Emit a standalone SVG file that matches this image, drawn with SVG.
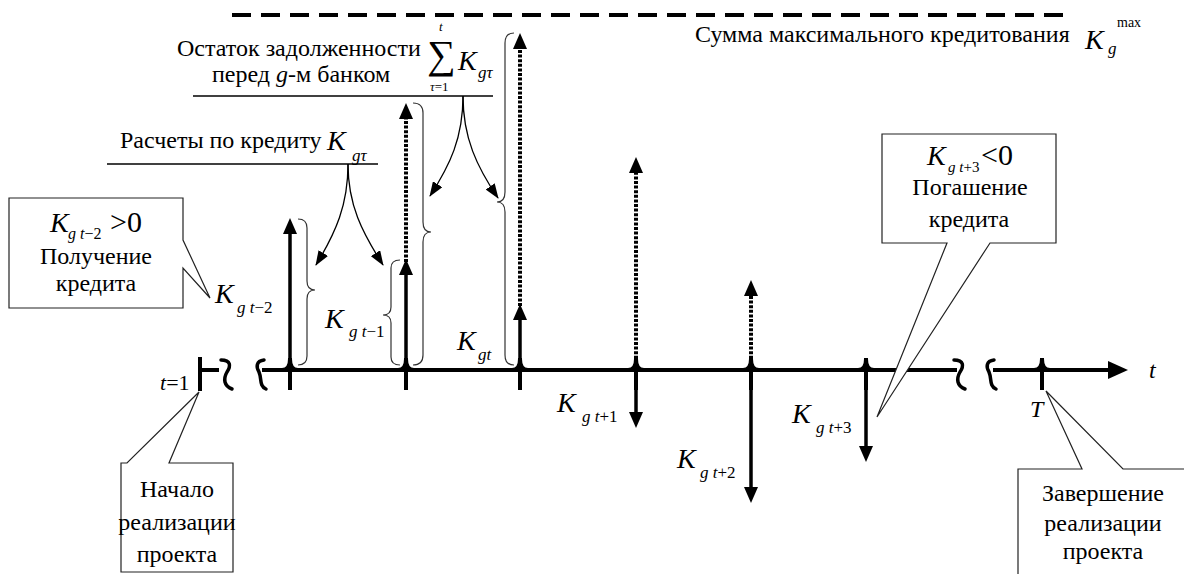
<svg xmlns="http://www.w3.org/2000/svg" width="1184" height="574" viewBox="0 0 1184 574">
<style>
text{font-family:"Liberation Serif","Liberation Sans",serif;fill:#000}
.t{font-size:24px}
.c{text-anchor:middle}
.i{font-style:italic}
.K{font-style:italic;font-size:28px}
.s{font-size:17px}
.ax{stroke:#000;stroke-width:4;fill:none}
.v{stroke:#000;stroke-width:3.5;fill:none}
.d{stroke:#000;stroke-width:4;fill:none;stroke-dasharray:3 1.6}
.cv{stroke:#000;stroke-width:1.3;fill:none}
.br{stroke:#333;stroke-width:1.2;fill:none}
.box{fill:#fff;stroke:#222;stroke-width:1.2}
.sq{stroke:#000;stroke-width:3.5;fill:none;stroke-linecap:round}
</style>
<defs>
<marker id="ah" viewBox="0 0 16 14" refX="2" refY="7" markerWidth="16" markerHeight="14" markerUnits="userSpaceOnUse" orient="auto"><path d="M0,0 L16,7 L0,14 Z" fill="#000"/></marker>
<marker id="ahs" viewBox="0 0 15 11" refX="14" refY="5.5" markerWidth="15" markerHeight="11" markerUnits="userSpaceOnUse" orient="auto"><path d="M0,0 L15,5.5 L0,11 Z" fill="#000"/></marker>
</defs>

<g id="max-line">
<line x1="232" y1="15" x2="1068" y2="15" stroke="#000" stroke-width="4" stroke-dasharray="19 10"/>
<text class="t" x="695" y="42">Сумма максимального кредитования</text>
<text x="1085" y="49" class="K">K</text>
<text x="1108" y="54" class="s i">g</text>
<text x="1117" y="27" font-size="14">max</text>
</g>

<g id="axis">
<line class="ax" x1="200" y1="370" x2="219" y2="370"/>
<line class="ax" x1="200" y1="357" x2="200" y2="391"/>
<path class="sq" d="M221 360 C231 360 231 366 227 372 C223 379 224 386 232 389"/>
<path class="sq" d="M264 360 C256 361 256 367 259 372 C262 379 259 386 266 389"/>
<line class="ax" x1="262" y1="370" x2="957" y2="370"/>
<path class="sq" d="M954 360 C964 360 964 366 960 372 C956 379 957 386 965 389"/>
<path class="sq" d="M994 360 C986 361 986 367 989 372 C992 379 989 386 996 389"/>
<line class="ax" x1="993" y1="370" x2="1110" y2="370"/>
<path d="M1108 361 L1128 370 L1108 379 Z" fill="#000"/>
<text class="t i" x="1149" y="378">t</text>
<text x="160" y="390" font-size="22"><tspan class="i">t</tspan>=1</text>
<text class="t i" x="1030" y="417">T</text>
</g>

<g id="ticks" fill="#000">
<line class="ax" x1="290" y1="358" x2="290" y2="390"/>
<path d="M282 368 Q288 368 288 359 L292 359 Q292 368 298 368 Z"/>
<line class="ax" x1="406" y1="358" x2="406" y2="390"/>
<path d="M398 368 Q404 368 404 359 L408 359 Q408 368 414 368 Z"/>
<line class="ax" x1="520" y1="358" x2="520" y2="390"/>
<path d="M512 368 Q518 368 518 359 L522 359 Q522 368 528 368 Z"/>
<line class="ax" x1="636" y1="358" x2="636" y2="390"/>
<path d="M628 368 Q634 368 634 359 L638 359 Q638 368 644 368 Z"/>
<line class="ax" x1="751" y1="358" x2="751" y2="390"/>
<path d="M743 368 Q749 368 749 359 L753 359 Q753 368 759 368 Z"/>
<line class="ax" x1="866" y1="358" x2="866" y2="390"/>
<path d="M858 368 Q864 368 864 359 L868 359 Q868 368 874 368 Z"/>
<line class="ax" x1="1042" y1="358" x2="1042" y2="390"/>
<path d="M1034 368 Q1040 368 1040 359 L1044 359 Q1044 368 1050 368 Z"/>
</g>

<g id="connectors">
<line class="v" x1="290" y1="370" x2="290" y2="232" marker-end="url(#ah)"/>
<line class="v" x1="406" y1="370" x2="406" y2="273" marker-end="url(#ah)"/>
<line class="v" x1="520" y1="370" x2="520" y2="318" marker-end="url(#ah)"/>
<line class="d" x1="406" y1="262" x2="406" y2="117" marker-end="url(#ah)"/>
<line class="d" x1="520" y1="306" x2="520" y2="47" marker-end="url(#ah)"/>
<line class="d" x1="636" y1="368" x2="636" y2="171" marker-end="url(#ah)"/>
<line class="d" x1="751" y1="368" x2="751" y2="294" marker-end="url(#ah)"/>
<line class="v" x1="636" y1="372" x2="636" y2="414" marker-end="url(#ah)"/>
<line class="v" x1="751" y1="372" x2="751" y2="489" marker-end="url(#ah)"/>
<line class="v" x1="866" y1="372" x2="866" y2="448" marker-end="url(#ah)"/>
<path class="cv" d="M348 164 C348 205 336 232 316 265" marker-end="url(#ahs)"/>
<path class="cv" d="M348 164 C348 205 362 232 383 265" marker-end="url(#ahs)"/>
<path class="cv" d="M463 96 C463 138 450 165 430 196" marker-end="url(#ahs)"/>
<path class="cv" d="M463 96 C463 138 477 167 498 198" marker-end="url(#ahs)"/>
<path class="br" d="M298 219 Q307 219 307 228 L307 281 Q307 290 315 290 Q307 290 307 299 L307 356 Q307 365 298 365"/>
<path class="br" d="M400 260 Q391 260 391 268 L391 307 Q391 315 383 315 Q391 315 391 323 L391 357 Q391 365 400 365"/>
<path class="br" d="M413 103 Q423 103 423 113 L423 222 Q423 232 431 232 Q423 232 423 242 L423 355 Q423 365 413 365"/>
<path class="br" d="M514 33 Q505 33 505 43 L505 192 Q505 202 497 202 Q505 202 505 212 L505 355 Q505 365 514 365"/>
</g>

<g id="labels">
<text x="215" y="303" class="K">K</text><text x="237" y="313" class="s"><tspan class="i">g t</tspan>−2</text>
<text x="325" y="328" class="K">K</text><text x="349" y="337" class="s"><tspan class="i">g t</tspan>−1</text>
<text x="457" y="350" class="K">K</text><text x="478" y="360" class="s i">gt</text>
<text x="557" y="412" class="K">K</text><text x="582" y="422" class="s"><tspan class="i">g t</tspan>+1</text>
<text x="677" y="468" class="K">K</text><text x="700" y="478" class="s"><tspan class="i">g t</tspan>+2</text>
<text x="792" y="423" class="K">K</text><text x="816" y="433" class="s"><tspan class="i">g t</tspan>+3</text>
</g>

<g id="note-payments">
<text class="t" x="120" y="148">Расчеты по кредиту</text>
<text x="327" y="150" class="K">K</text><text x="352" y="161" class="s i">gτ</text>
<line x1="107" y1="164" x2="378" y2="164" stroke="#000" stroke-width="1.3"/>
</g>

<g id="note-debt">
<text class="t" x="177" y="56">Остаток задолженности</text>
<text class="t" x="212" y="82">перед <tspan class="i">g</tspan>-м банком</text>
<text x="427" y="68" font-size="40">∑</text>
<text x="439" y="31" font-size="13" class="i">t</text>
<text x="430" y="91" font-size="13"><tspan class="i">τ</tspan>=1</text>
<text x="458" y="70" class="K">K</text><text x="478" y="78" class="s i">gτ</text>
<line x1="193" y1="96" x2="493" y2="96" stroke="#000" stroke-width="1.3"/>
</g>

<g id="box-receive">
<path class="box" d="M9 198 H183 V240 L210 298 L183 268 V308 H9 Z"/>
<text x="50" y="232" class="K">K</text><text x="68" y="239" font-size="16"><tspan class="i">g t</tspan>−2</text><text x="110" y="232" font-size="30">&gt;0</text>
<text class="t c" x="96" y="264">Получение</text>
<text class="t c" x="96" y="291">кредита</text>
</g>

<g id="box-repay">
<path class="box" d="M882 134 H1056 V243 H990 L877 417 L947 243 H882 Z"/>
<text x="927" y="165" class="K">K</text><text x="948" y="172" font-size="15"><tspan class="i">g t</tspan>+3</text><text x="981" y="165" font-size="30">&lt;0</text>
<text class="t c" x="970" y="195">Погашение</text>
<text class="t c" x="969" y="227">кредита</text>
</g>

<g id="box-start">
<path class="box" d="M121 463 H127 L199 392 L169 463 H233 V572 H121 Z"/>
<text class="t c" x="177" y="497">Начало</text>
<text class="t c" x="177" y="530">реализации</text>
<text class="t c" x="177" y="562">проекта</text>
</g>

<g id="box-end">
<path class="box" d="M1018 469 H1082 L1046 391 L1123 469 H1190 V580 H1018 Z"/>
<text class="t c" x="1103" y="501">Завершение</text>
<text class="t c" x="1103" y="531">реализации</text>
<text class="t c" x="1103" y="559">проекта</text>
</g>
</svg>
